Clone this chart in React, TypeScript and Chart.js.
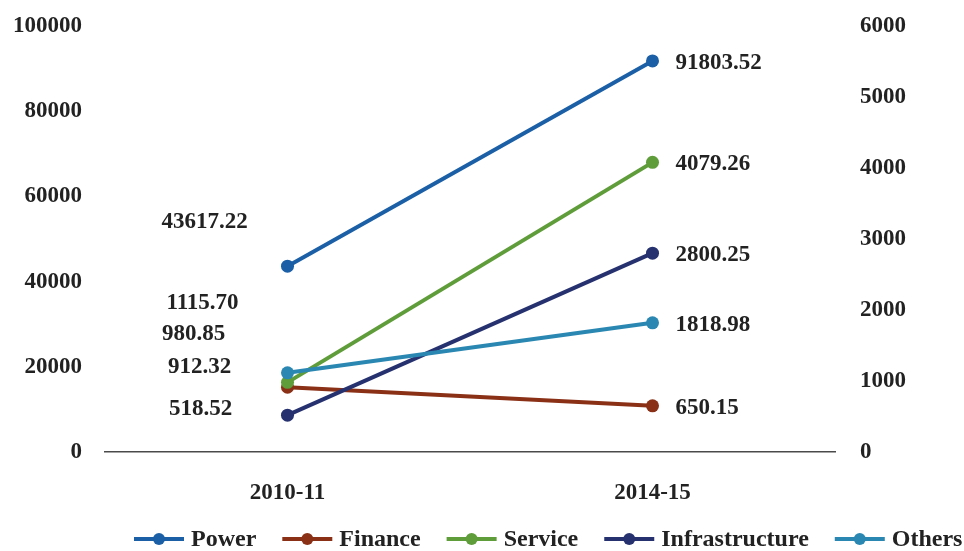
import React, { useEffect, useRef } from 'react';
import { Chart, registerables } from 'chart.js';

Chart.register(...registerables);

// ---- data ----
const categories = ['2010-11', '2014-15'];
const seriesNames = ['Power', 'Finance', 'Service', 'Infrastructure', 'Others'];
const powerValues = [43617.22, 91803.52];
const financeValues = [912.32, 650.15];
const serviceValues = [980.85, 4079.26];
const infrastructureValues = [518.52, 2800.25];
const othersValues = [1115.7, 1818.98];
const leftAxisMax = 100000;
const leftAxisStep = 20000;
const rightAxisMax = 6000;
const rightAxisStep = 1000;

// ---- styles ----
const FONT = "'Liberation Serif', 'Times New Roman', serif";
const TEXT = '#222222';

const seriesStyle: Record<string, { color: string; axis: string; order: number; startDx: number; startDy: number }> = {
  Power: { color: '#1b5fa6', axis: 'y', order: 4, startDx: -83, startDy: -44 },
  Finance: { color: '#8a3016', axis: 'y1', order: 3, startDx: -88, startDy: -20 },
  Service: { color: '#5f9c3a', axis: 'y1', order: 2, startDx: -94, startDy: -48 },
  Infrastructure: { color: '#26316f', axis: 'y1', order: 1, startDx: -87, startDy: -6 },
  Others: { color: '#2a87b2', axis: 'y1', order: 0, startDx: -85, startDy: -70 },
};

const seriesValues = [powerValues, financeValues, serviceValues, infrastructureValues, othersValues];

const valueLabelPlugin = {
  id: 'valueLabels',
  afterDatasetsDraw(chart: any) {
    const ctx = chart.ctx;
    ctx.save();
    ctx.font = `bold 23px ${FONT}`;
    ctx.fillStyle = TEXT;
    ctx.textBaseline = 'middle';
    chart.data.datasets.forEach((ds: any, i: number) => {
      const meta = chart.getDatasetMeta(i);
      const st = seriesStyle[ds.label];
      meta.data.forEach((pt: any, j: number) => {
        const txt = Number(ds.data[j]).toFixed(2);
        if (j === 0) {
          ctx.textAlign = 'center';
          ctx.fillText(txt, pt.x + st.startDx, pt.y + st.startDy);
        } else {
          ctx.textAlign = 'left';
          ctx.fillText(txt, pt.x + 23, pt.y + 2);
        }
      });
    });
    ctx.restore();
  },
};

const legendPlugin = {
  id: 'lineLegend',
  afterDraw(chart: any) {
    const ctx = chart.ctx;
    ctx.save();
    ctx.font = `bold 24px ${FONT}`;
    ctx.textBaseline = 'middle';
    ctx.textAlign = 'left';
    const y = 539;
    const lineLen = 50;
    const gapText = 7;
    const gapItem = 26;
    let x = 134;
    chart.data.datasets.forEach((ds: any) => {
      const color = ds.borderColor;
      ctx.strokeStyle = color;
      ctx.lineWidth = 4;
      ctx.beginPath();
      ctx.moveTo(x, y);
      ctx.lineTo(x + lineLen, y);
      ctx.stroke();
      ctx.fillStyle = color;
      ctx.beginPath();
      ctx.arc(x + lineLen / 2, y, 6, 0, Math.PI * 2);
      ctx.fill();
      x += lineLen + gapText;
      ctx.fillStyle = TEXT;
      ctx.fillText(ds.label, x, y + 1);
      x += ctx.measureText(ds.label).width + gapItem;
    });
    ctx.restore();
  },
};

export default function App() {
  const canvasRef = useRef<HTMLCanvasElement | null>(null);

  useEffect(() => {
    if (!canvasRef.current) return;
    const datasets = seriesNames.map((name, i) => {
      const st = seriesStyle[name];
      return {
        label: name,
        data: seriesValues[i],
        yAxisID: st.axis,
        order: st.order,
        borderColor: st.color,
        backgroundColor: st.color,
        borderWidth: 4,
        pointRadius: 6.5,
        pointHoverRadius: 6.5,
        pointBackgroundColor: st.color,
        pointBorderColor: st.color,
        pointBorderWidth: 0,
        tension: 0,
        fill: false,
      };
    });

    const tickFont = { family: FONT, size: 23, weight: 'bold' as const };
    const plain = (v: any) => String(v);

    const chart = new Chart(canvasRef.current, {
      type: 'line',
      data: { labels: categories, datasets },
      options: {
        animation: false,
        responsive: false,
        layout: { padding: { top: 26, bottom: 45, left: 0, right: 0 } },
        plugins: {
          legend: { display: false },
          tooltip: { enabled: false },
        },
        scales: {
          x: {
            offset: true,
            grid: { display: false, drawTicks: false },
            border: { display: true, color: '#4a4a4a', width: 1.5 },
            ticks: { font: tickFont, color: TEXT, padding: 27, maxRotation: 0 },
            afterFit: (scale: any) => {
              scale.height = 54;
            },
          },
          y: {
            position: 'left',
            min: 0,
            max: leftAxisMax,
            grid: { display: false, drawTicks: false },
            border: { display: false },
            ticks: { stepSize: leftAxisStep, font: tickFont, color: TEXT, padding: 23, callback: plain },
            afterFit: (scale: any) => {
              scale.width = 105;
              scale.paddingTop = 12;
              scale.paddingBottom = 12;
            },
          },
          y1: {
            position: 'right',
            min: 0,
            max: rightAxisMax,
            grid: { display: false, drawTicks: false },
            border: { display: false },
            ticks: { stepSize: rightAxisStep, font: tickFont, color: TEXT, padding: 25, callback: plain },
            afterFit: (scale: any) => {
              scale.width = 129;
              scale.paddingTop = 12;
              scale.paddingBottom = 12;
            },
          },
        },
      } as any,
      plugins: [valueLabelPlugin, legendPlugin],
    });
    return () => chart.destroy();
  }, []);

  return (
    <div style={{ position: 'absolute', left: 0, top: 0, width: 964, height: 551, background: '#ffffff' }}>
      <canvas ref={canvasRef} width={964} height={551} />
    </div>
  );
}
